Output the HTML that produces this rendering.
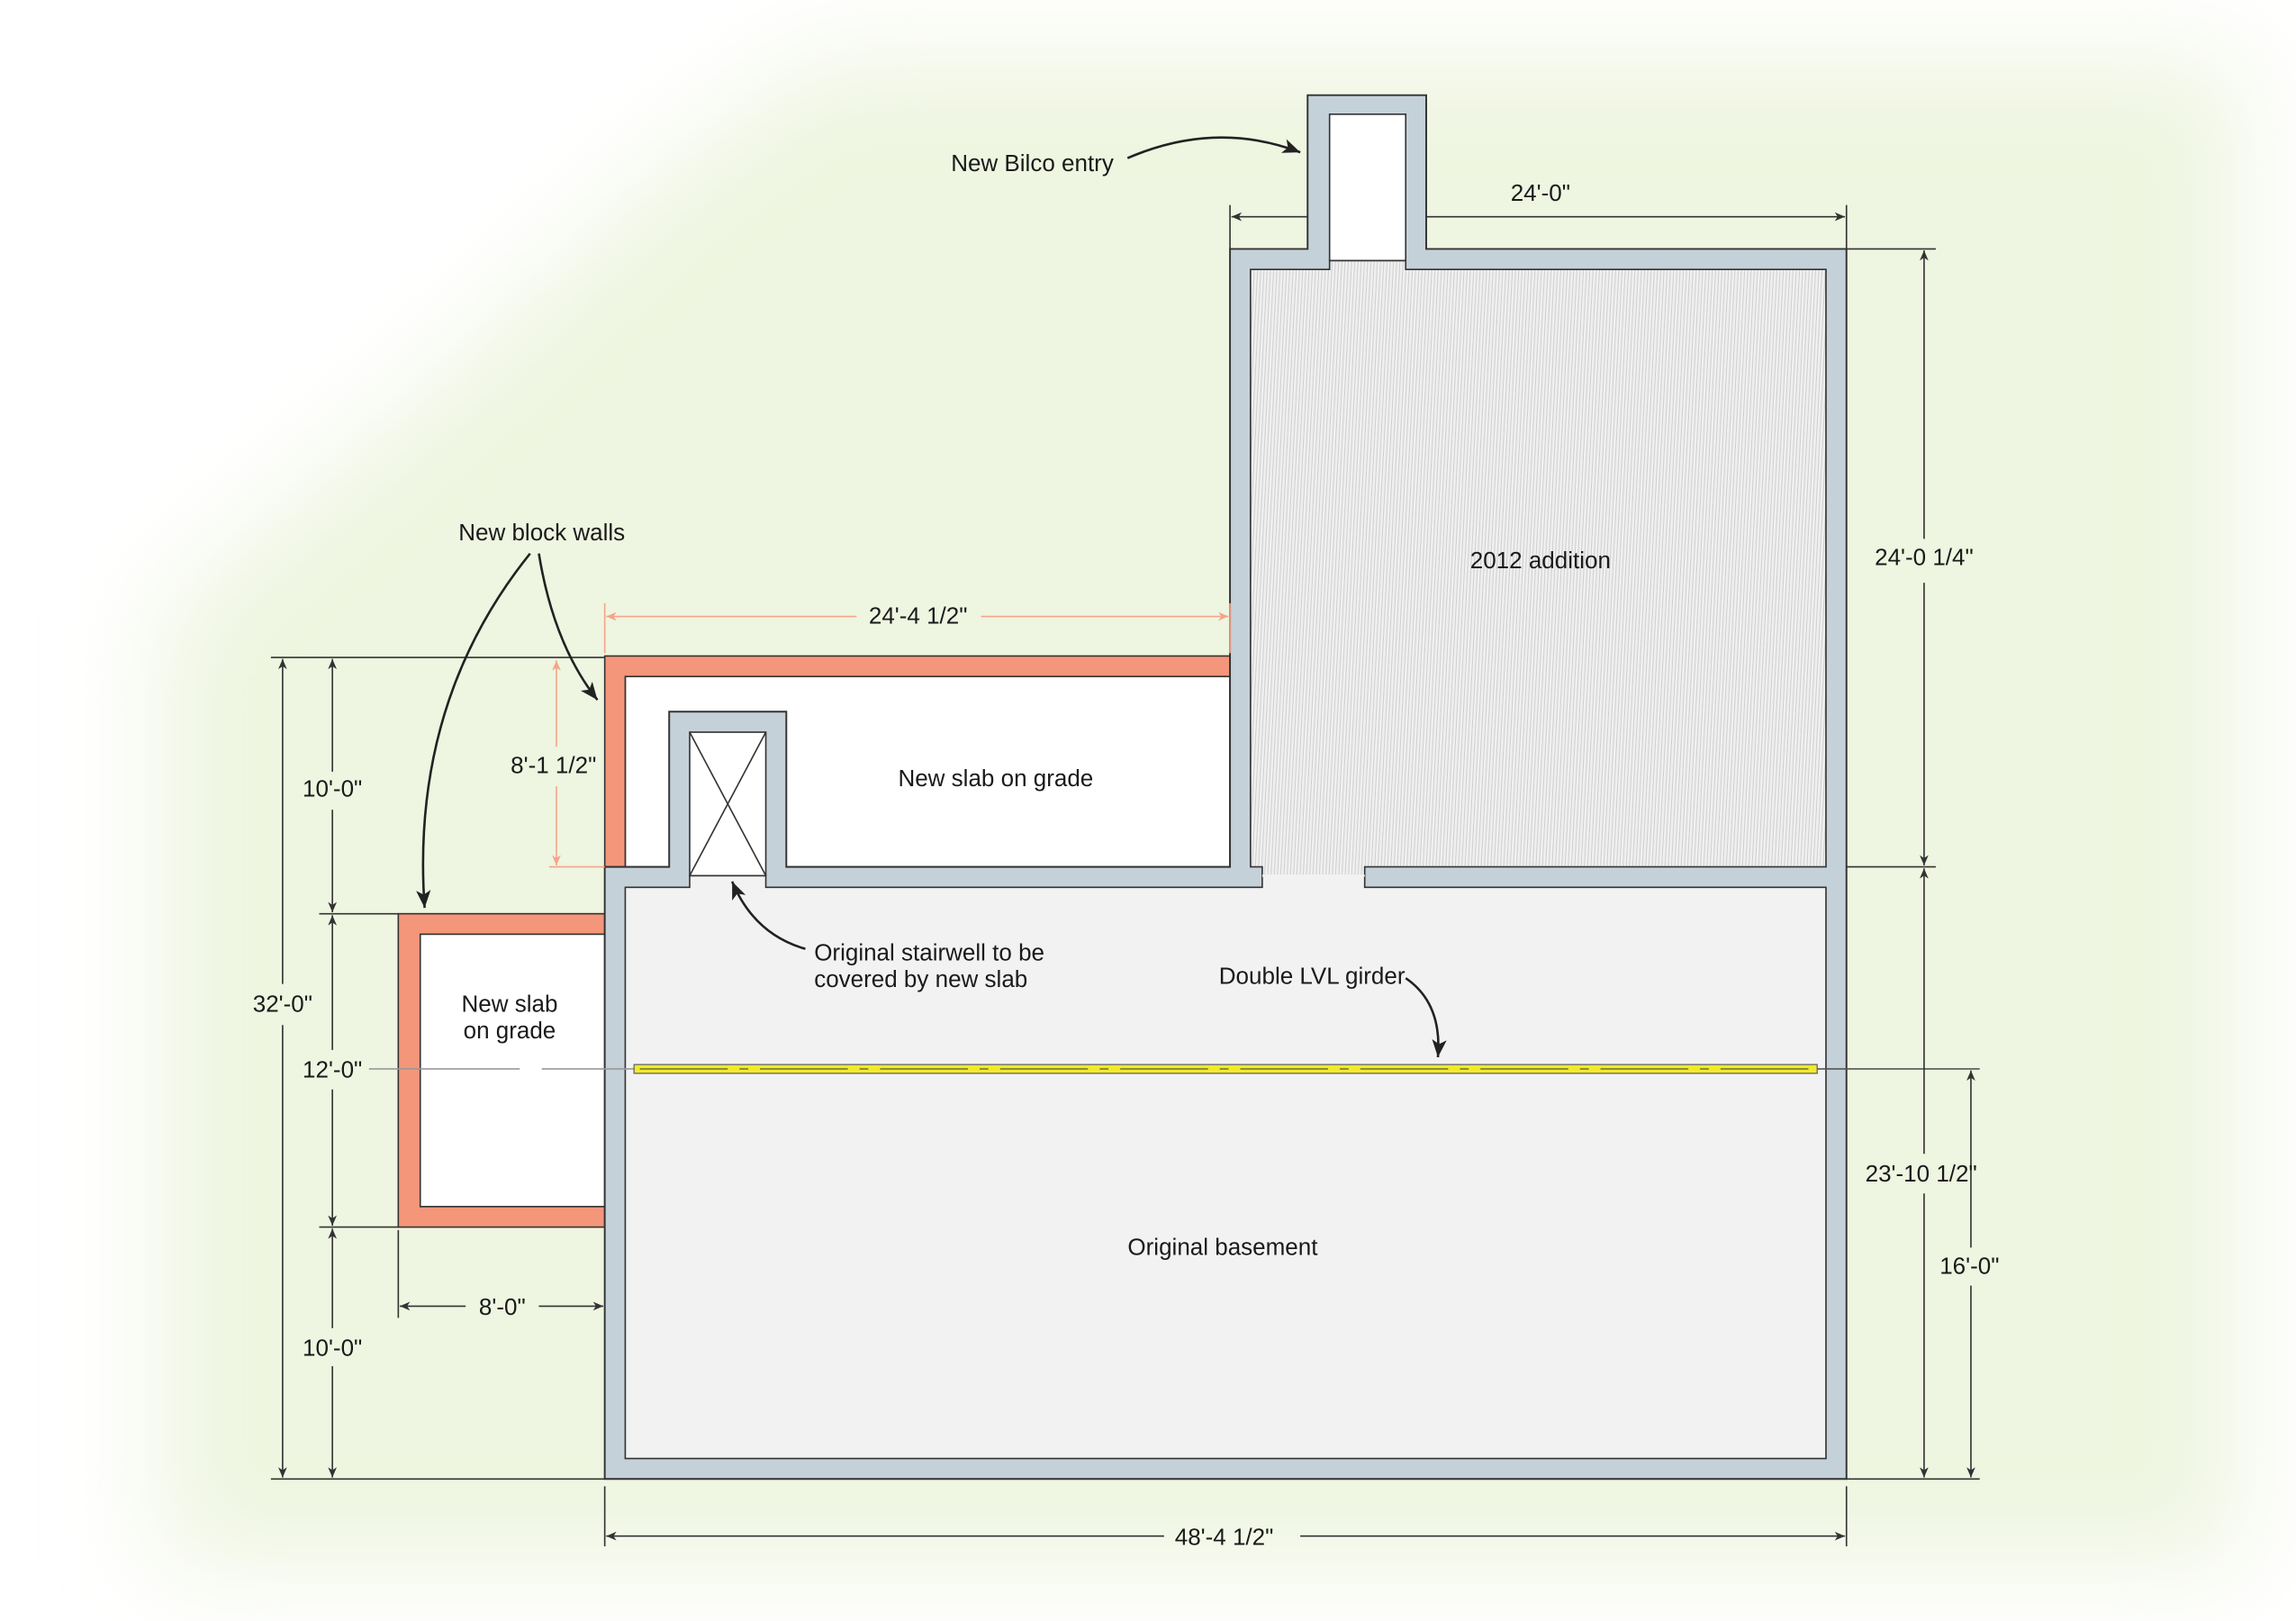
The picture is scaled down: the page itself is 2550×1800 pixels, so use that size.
<!DOCTYPE html>
<html><head><meta charset="utf-8"><style>
html,body{margin:0;padding:0;background:#fff;}
svg{display:block;}
text{font-family:"Liberation Sans Narrow","Liberation Sans",sans-serif;font-size:16px;fill:#1a1a1a;}
</style></head><body>
<svg width="2550" height="1800" viewBox="0 0 1568 1107" preserveAspectRatio="none" xmlns="http://www.w3.org/2000/svg">
<defs>
<filter id="bl" x="-20%" y="-20%" width="140%" height="140%"><feGaussianBlur stdDeviation="35"/></filter>
<pattern id="hatch" width="2.2" height="10" patternUnits="userSpaceOnUse" patternTransform="rotate(3)">
<rect width="2.2" height="10" fill="#f0f0f0"/><line x1="0.5" y1="0" x2="0.5" y2="10" stroke="#cdcdcd" stroke-width="0.6"/></pattern>
<marker id="ar" markerWidth="8" markerHeight="8" refX="7" refY="4" orient="auto" markerUnits="userSpaceOnUse"><path d="M0,1 L7,4 L0,7 L2,4z" fill="#333"/></marker>
<marker id="ars" markerWidth="8" markerHeight="8" refX="1" refY="4" orient="auto" markerUnits="userSpaceOnUse"><path d="M8,1 L1,4 L8,7 L6,4z" fill="#333"/></marker>
<marker id="sar" markerWidth="8" markerHeight="8" refX="7" refY="4" orient="auto" markerUnits="userSpaceOnUse"><path d="M0,1 L7,4 L0,7 L2,4z" fill="#f4a58a"/></marker>
<marker id="sars" markerWidth="8" markerHeight="8" refX="1" refY="4" orient="auto" markerUnits="userSpaceOnUse"><path d="M8,1 L1,4 L8,7 L6,4z" fill="#f4a58a"/></marker>
<marker id="big" markerWidth="14" markerHeight="14" refX="12" refY="7" orient="auto" markerUnits="userSpaceOnUse"><path d="M0,2 L12,7 L0,12 L3,7z" fill="#222"/></marker>
</defs>
<rect width="1568" height="1107" fill="#fff"/>
<g filter="url(#bl)">
<polygon points="560,40 1530,40 1530,1070 110,1070 110,420 300,260 450,120" fill="#eef5e0"/>
</g>

<!-- new slab upper white -->
<rect x="427" y="462" width="413" height="130" fill="#fff" stroke="#333" stroke-width="1"/>
<!-- salmon L -->
<polygon points="413,592 413,448 840,448 840,462 427,462 427,592" fill="#f4967a" stroke="#333" stroke-width="1"/>
<!-- left slab -->
<rect x="272" y="624" width="141" height="214" fill="#f4967a" stroke="#333" stroke-width="1"/>
<rect x="287" y="638" width="126" height="186" fill="#fff" stroke="#333" stroke-width="1"/>

<!-- outer grey building -->
<polygon points="413,1010 413,592 457,592 457,486 537,486 537,592 840,592 840,170 893,170 893,65 974,65 974,170 1261,170 1261,1010" fill="#c5d1d9" stroke="#333" stroke-width="1.2"/>
<!-- bilco inner -->
<rect x="908" y="78" width="52" height="100" fill="#fff" stroke="#333" stroke-width="1"/>
<!-- addition interior -->
<polygon points="854,184 908,184 908,178 960,178 960,184 1247,184 1247,592 932,592 932,598 862,598 862,592 854,592" fill="url(#hatch)" stroke="#333" stroke-width="1"/>
<!-- basement interior -->
<polygon points="427,606 471,606 471,598 523,598 523,606 862,606 862,598 932,598 932,606 1247,606 1247,996 427,996" fill="#f2f2f2" stroke="#333" stroke-width="1"/>
<line x1="862" y1="598" x2="932" y2="598" stroke="#f2f2f2" stroke-width="1.5"/>
<!-- stair box -->
<rect x="471" y="500" width="52" height="98" fill="#fff" stroke="#333" stroke-width="1"/>
<line x1="471" y1="500" x2="523" y2="598" stroke="#333" stroke-width="1"/>
<line x1="523" y1="500" x2="471" y2="598" stroke="#333" stroke-width="1"/>

<!-- girder -->
<line x1="252" y1="730" x2="355" y2="730" stroke="#999" stroke-width="1"/>
<line x1="370" y1="730" x2="433" y2="730" stroke="#999" stroke-width="1"/>
<line x1="1241" y1="730" x2="1352" y2="730" stroke="#555" stroke-width="1"/>
<rect x="433" y="727" width="808" height="6" fill="#f1ea2c" stroke="#666" stroke-width="0.8"/>
<line x1="437" y1="730" x2="1237" y2="730" stroke="#7a7a30" stroke-width="1" stroke-dasharray="60,8,6,8"/>

<!-- dimensions dark -->
<g stroke="#333" stroke-width="1" fill="none">
<line x1="840" y1="140" x2="840" y2="170"/><line x1="1261" y1="140" x2="1261" y2="170"/>
<line x1="841" y1="148" x2="893" y2="148" marker-start="url(#ars)"/>
<line x1="974" y1="148" x2="1260" y2="148" marker-end="url(#ar)"/>
<line x1="1261" y1="170" x2="1322" y2="170"/><line x1="1261" y1="592" x2="1322" y2="592"/>
<line x1="1261" y1="1010" x2="1352" y2="1010"/>
<line x1="1314" y1="171" x2="1314" y2="368" marker-start="url(#ars)"/>
<line x1="1314" y1="398" x2="1314" y2="591" marker-end="url(#ar)"/>
<line x1="1314" y1="593" x2="1314" y2="788" marker-start="url(#ars)"/>
<line x1="1314" y1="815" x2="1314" y2="1009" marker-end="url(#ar)"/>
<line x1="1346" y1="731" x2="1346" y2="852" marker-start="url(#ars)"/>
<line x1="1346" y1="878" x2="1346" y2="1009" marker-end="url(#ar)"/>
<line x1="413" y1="1015" x2="413" y2="1056"/><line x1="1261" y1="1015" x2="1261" y2="1056"/>
<line x1="414" y1="1049" x2="795" y2="1049" marker-start="url(#ars)"/>
<line x1="888" y1="1049" x2="1260" y2="1049" marker-end="url(#ar)"/>
<line x1="185" y1="449" x2="413" y2="449"/><line x1="185" y1="1010" x2="413" y2="1010"/>
<line x1="218" y1="624" x2="272" y2="624"/><line x1="218" y1="838" x2="272" y2="838"/>
<line x1="193" y1="450" x2="193" y2="672" marker-start="url(#ars)"/>
<line x1="193" y1="700" x2="193" y2="1009" marker-end="url(#ar)"/>
<line x1="227" y1="450" x2="227" y2="527" marker-start="url(#ars)"/>
<line x1="227" y1="553" x2="227" y2="623" marker-end="url(#ar)"/>
<line x1="227" y1="625" x2="227" y2="717" marker-start="url(#ars)"/>
<line x1="227" y1="744" x2="227" y2="837" marker-end="url(#ar)"/>
<line x1="227" y1="839" x2="227" y2="907" marker-start="url(#ars)"/>
<line x1="227" y1="933" x2="227" y2="1009" marker-end="url(#ar)"/>
<line x1="272" y1="840" x2="272" y2="900"/>
<line x1="273" y1="892" x2="318" y2="892" marker-start="url(#ars)"/>
<line x1="368" y1="892" x2="412" y2="892" marker-end="url(#ar)"/>
</g>
<!-- salmon dims -->
<g stroke="#f4a58a" stroke-width="1" fill="none">
<line x1="413" y1="412" x2="413" y2="446"/><line x1="840" y1="412" x2="840" y2="446"/>
<line x1="414" y1="421" x2="585" y2="421" marker-start="url(#sars)"/>
<line x1="670" y1="421" x2="839" y2="421" marker-end="url(#sar)"/>
<line x1="375" y1="592" x2="413" y2="592"/>
<line x1="380" y1="451" x2="380" y2="510" marker-start="url(#sars)"/>
<line x1="380" y1="537" x2="380" y2="591" marker-end="url(#sar)"/>
</g>

<!-- callouts -->
<g stroke="#222" stroke-width="1.6" fill="none">
<path d="M770,108 Q830,82 888,104" marker-end="url(#big)"/>
<path d="M368,378 Q378,440 408,478" marker-end="url(#big)"/>
<path d="M362,378 Q280,480 290,620" marker-end="url(#big)"/>
<path d="M550,648 Q515,638 500,602" marker-end="url(#big)"/>
<path d="M960,668 Q985,685 982,722" marker-end="url(#big)"/>
</g>

<!-- text -->
<g text-anchor="middle">
<text x="705" y="117">New Bilco entry</text>
<text x="1052" y="137">24'-0"</text>
<text x="1314" y="386">24'-0 1/4"</text>
<text x="1052" y="388">2012 addition</text>
<text x="370" y="369">New block walls</text>
<text x="627" y="426">24'-4 1/2"</text>
<text x="378" y="528">8'-1 1/2"</text>
<text x="680" y="537">New slab on grade</text>
<text x="227" y="544">10'-0"</text>
<text x="193" y="691">32'-0"</text>
<text x="348" y="691">New slab</text>
<text x="348" y="709">on grade</text>
<text x="227" y="736">12'-0"</text>
<text x="896" y="672">Double LVL girder</text>
<text x="1312" y="807">23'-10 1/2"</text>
<text x="835" y="857">Original basement</text>
<text x="1345" y="870">16'-0"</text>
<text x="343" y="898">8'-0"</text>
<text x="227" y="926">10'-0"</text>
<text x="836" y="1055">48'-4 1/2"</text>
</g>
<text x="556" y="656">Original stairwell to be</text>
<text x="556" y="674">covered by new slab</text>
</svg>
</body></html>
